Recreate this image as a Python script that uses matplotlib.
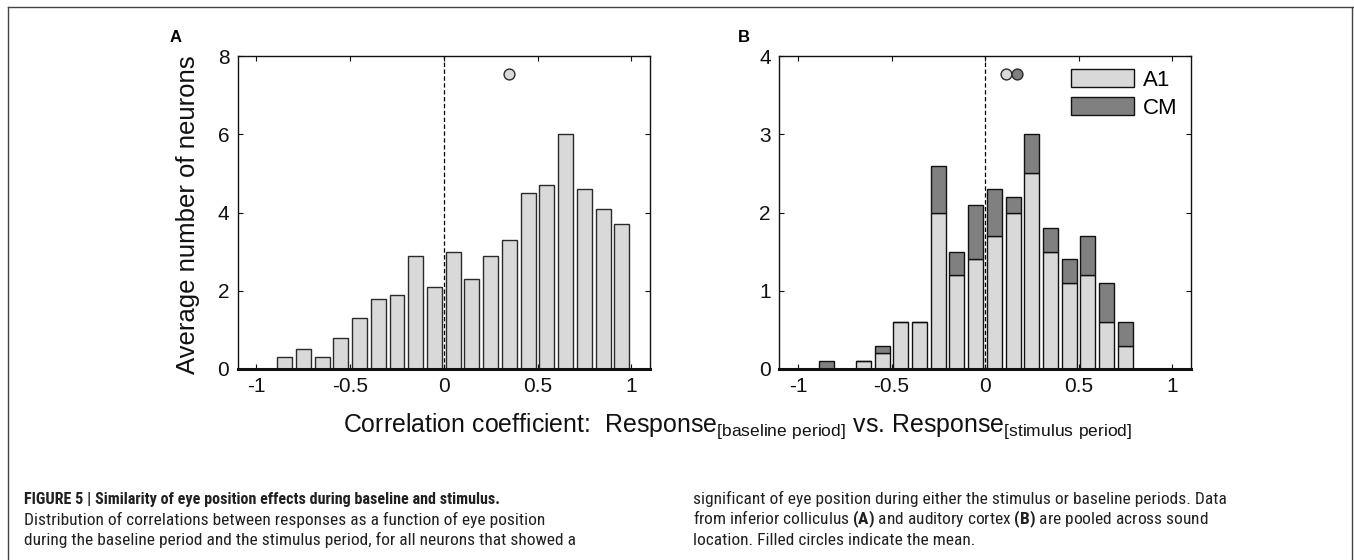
import numpy as np
import matplotlib
matplotlib.use('Agg')
import matplotlib.pyplot as plt
from matplotlib import font_manager
from matplotlib.lines import Line2D
from matplotlib.patches import Patch

# histogram bins (bin centres) and averaged counts
bin_centers = [-0.95, -0.85, -0.75, -0.65, -0.55, -0.45, -0.35, -0.25, -0.15, -0.05,
               0.05, 0.15, 0.25, 0.35, 0.45, 0.55, 0.65, 0.75, 0.85, 0.95]
counts_ic = [0, 0.3, 0.5, 0.3, 0.8, 1.3, 1.8, 1.9, 2.9, 2.1,
             3.0, 2.3, 2.9, 3.3, 4.5, 4.7, 6.0, 4.6, 4.1, 3.7]
counts_a1 = [0, 0, 0, 0.1, 0.2, 0.6, 0.6, 2.0, 1.2, 1.4,
             1.7, 2.0, 2.5, 1.5, 1.1, 1.2, 0.6, 0.3, 0, 0]
counts_cm = [0, 0.1, 0, 0, 0.1, 0, 0, 0.6, 0.3, 0.7,
             0.6, 0.2, 0.5, 0.3, 0.3, 0.5, 0.5, 0.3, 0, 0]
mean_ic = 0.35
mean_a1 = 0.11
mean_cm = 0.17

x_ticks = [-1, -0.5, 0, 0.5, 1]
x_ticklabels = ['-1', '-0.5', '0', '0.5', '1']

caption_left = [
    'FIGURE 5 | Similarity of eye position effects during baseline and stimulus.',
    'Distribution of correlations between responses as a function of eye position',
    'during the baseline period and the stimulus period, for all neurons that showed a',
]
caption_right = [
    'significant of eye position during either the stimulus or baseline periods. Data',
    r'from inferior colliculus $\mathbf{(A)}$ and auditory cortex $\mathbf{(B)}$ are pooled across sound',
    'location. Filled circles indicate the mean.',
]

# caption is set in a condensed face in the original; use one if there is any
names = {f.name for f in font_manager.fontManager.ttflist}
cap_font = 'Liberation Sans'
for cand in ['Liberation Sans Narrow', 'DejaVu Sans Condensed', 'Roboto Condensed',
             'Open Sans Condensed', 'Noto Sans Condensed']:
    if cand in names:
        cap_font = cand
        break

plt.rcParams['font.family'] = ['Liberation Sans', 'DejaVu Sans']
plt.rcParams['mathtext.fontset'] = 'custom'
plt.rcParams['mathtext.rm'] = 'Liberation Sans'
plt.rcParams['mathtext.bf'] = cap_font + ':bold'

light = '#d9d9d9'
dark = '#808080'
edge = '#2a2a2a'
W, H = 1354, 560

fig = plt.figure(figsize=(W / 100, H / 100), dpi=100)
axA = fig.add_axes([237.7 / W, 1 - 369 / H, 412.3 / W, 313 / H])
axB = fig.add_axes([779.3 / W, 1 - 369 / H, 411.4 / W, 313 / H])


def style(ax, ymax, yticks):
    ax.set_xlim(-1.1, 1.1)
    ax.set_ylim(0, ymax)
    ax.set_xticks(x_ticks)
    ax.set_xticklabels(x_ticklabels)
    ax.set_yticks(yticks)
    ax.tick_params(direction='in', top=True, right=True, length=3.5, width=0.8,
                   labelsize=15, pad=6, colors='#111111')
    for s in ax.spines.values():
        s.set_linewidth(1.0)
        s.set_color('#111111')
    ax.spines['bottom'].set_linewidth(2.2)
    ax.axvline(0, color='k', lw=0.9, ls=(0, (3.5, 2)), zorder=1)


# panel A: inferior colliculus
axA.bar(bin_centers, counts_ic, width=0.08, color=light, edgecolor=edge, lw=1.0, zorder=2)
style(axA, 8, [0, 2, 4, 6, 8])
axA.plot([mean_ic], [7.55], 'o', ms=7.8, mfc=light, mec=edge, mew=1.0, zorder=4)

# panel B: auditory cortex (stacked A1 + CM)
axB.bar(bin_centers, counts_a1, width=0.08, color=light, edgecolor='#111111', lw=1.0, zorder=2)
axB.bar(bin_centers, counts_cm, width=0.08, bottom=counts_a1, color=dark,
        edgecolor='#111111', lw=1.0, zorder=2)
style(axB, 4, [0, 1, 2, 3, 4])
axB.plot([mean_a1], [3.77], 'o', ms=7.8, mfc=light, mec=edge, mew=1.0, zorder=4)
axB.plot([mean_cm], [3.77], 'o', ms=7.8, mfc=dark, mec=edge, mew=1.0, zorder=5)

handles = [Patch(facecolor=light, edgecolor='#111111', lw=1.0),
           Patch(facecolor=dark, edgecolor='#111111', lw=1.0)]
axB.legend(handles, ['A1', 'CM'], loc='upper left', bbox_to_anchor=(0.708, 0.957),
           frameon=False, fontsize=16, borderpad=0, borderaxespad=0,
           handlelength=2.85, handleheight=0.86, handletextpad=0.4, labelspacing=0.27)

# labels
fig.text(188.5 / W, 1 - 215 / H, 'Average number of neurons', rotation=90,
         ha='center', va='center', fontsize=18.5, color='#111111')
fig.text(737.5 / W, 1 - 432 / H,
         r'Correlation coefficient:  Response$_{\mathrm{[baseline\ period]}}$ vs. '
         r'Response$_{\mathrm{[stimulus\ period]}}$',
         ha='center', va='baseline', fontsize=17.9, color='#111111')
fig.text(170 / W, 1 - 42 / H, 'A', fontsize=12, weight='bold', va='baseline')
fig.text(738 / W, 1 - 42 / H, 'B', fontsize=12, weight='bold', va='baseline')

# caption: size chosen so the lines come out as wide as in the original
cap_col = '#231f20'
renderer = fig.canvas.get_renderer()
probe = fig.text(0, 0, caption_left[1], fontsize=10, family=cap_font)
cap_size = 10 * 515 / probe.get_window_extent(renderer).width
probe.remove()
probe = fig.text(0, 0, caption_left[0], fontsize=10, family=cap_font, weight='bold')
bold_size = min(cap_size, 10 * 478 / probe.get_window_extent(renderer).width)
probe.remove()

for i, line in enumerate(caption_left):
    fig.text(24 / W, 1 - (504 + 20.5 * i) / H, line, va='baseline',
             family=cap_font, color=cap_col,
             fontsize=bold_size if i == 0 else cap_size,
             weight='bold' if i == 0 else 'normal')
for i, line in enumerate(caption_right):
    fig.text(693 / W, 1 - (504 + 20.5 * i) / H, line, fontsize=cap_size, va='baseline',
             family=cap_font, color=cap_col)

# outer frame of the figure panel
for xs, ys in [([8, W], [7, 7]), ([8, 8], [7, H]), ([W - 2, W - 2], [7, H])]:
    fig.add_artist(Line2D([x / W for x in xs], [1 - y / H for y in ys],
                          transform=fig.transFigure, color='#444444', lw=1.0))

fig.savefig('out.png', dpi=100)
